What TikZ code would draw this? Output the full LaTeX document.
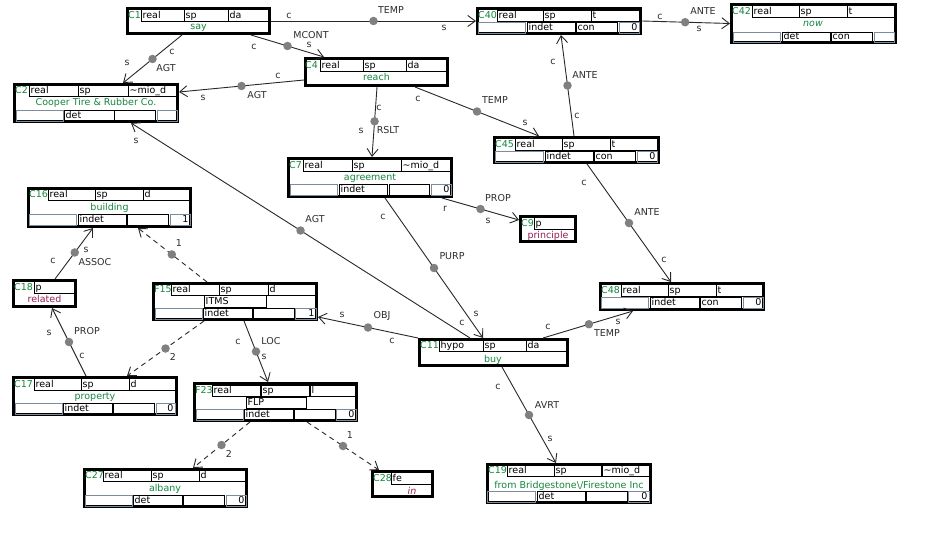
\documentclass[tikz,border=0pt]{standalone}
\usepackage{fontspec}
\setmainfont{DejaVu Sans}
\usetikzlibrary{arrows.meta}
\definecolor{grn}{RGB}{22,135,62}
\definecolor{mag}{RGB}{150,30,85}
\definecolor{gcell}{RGB}{125,140,155}
\definecolor{dotc}{RGB}{128,128,128}
\definecolor{edgec}{RGB}{40,40,40}
\definecolor{labc}{RGB}{45,45,45}
\newcounter{nn}
\tikzset{
 bx/.style={draw=black, line width=2.6pt, fill=white, inner sep=0pt, rectangle},
 cl/.style={draw=black, line width=0.8pt},
 gc/.style={draw=gcell, line width=0.8pt},
 tx/.style={inner sep=0pt, font=\fontsize{9.5}{11}\selectfont, text=black},
 gtx/.style={tx, text=grn},
 mtx/.style={tx, text=mag},
 elab/.style={inner sep=0pt, font=\fontsize{9.5}{11}\selectfont, text=labc},
 dot/.style={circle, fill=dotc, inner sep=0pt, minimum size=8.5pt},
 rel/.style={draw=edgec, line width=0.9pt, -{Straight Barb[length=7.5pt,width=11pt]}},
 drel/.style={rel, dash pattern=on 5pt off 4pt},
}
\newcommand\dBox[5]{\node[bx, minimum width={(#4-#2-2.6)*1pt}, minimum height={(#5-#3-2.6)*1pt}] (#1) at ({(#2+#4)/2},{(#3+#5)/2}) {};}
\newcommand\dCel[5]{\draw[cl] (#1,#2) rectangle (#3,#4); \stepcounter{nn}\node[tx, anchor=base west] (n\arabic{nn}) at ({#1+1.5},{#4-2.3}) {#5};}
\newcommand\dGcel[5]{\draw[gc] (#1,#2) rectangle (#3,#4); \stepcounter{nn}\node[tx, anchor=base east] (n\arabic{nn}) at ({#3-1.5},{#4-2.3}) {#5};}
\newcommand\dLab[3]{\stepcounter{nn}\node[gtx, anchor=base west] (n\arabic{nn}) at (#1,#2) {#3};}
\newcommand\dCtr[3]{\stepcounter{nn}\node[gtx, anchor=base] (n\arabic{nn}) at (#1,#2) {#3};}
\newcommand\dMctr[3]{\stepcounter{nn}\node[mtx, anchor=base] (n\arabic{nn}) at (#1,#2) {#3};}
\newcommand\dEl[3]{\stepcounter{nn}\node[elab] (n\arabic{nn}) at (#1,#2) {#3};}
\begin{document}
\begin{tikzpicture}[x=1pt,y=-1pt]
\fill[white] (0,0) rectangle (947,559);
\useasboundingbox (0,0) rectangle (947,559);
% C1
\dBox{c1}{126}{7}{271}{35}
\dLab{128}{18.7}{C1}
\dCel{141}{9}{184}{21}{real}\dCel{184}{9}{228}{21}{sp}\dCel{228}{9}{269}{21}{da}
\dCtr{198.5}{30}{say}
% C2
\dBox{c2}{13}{83}{179}{123}
\dLab{15}{93.7}{C2}
\dCel{29}{85}{78}{96}{real}\dCel{78}{85}{128}{96}{sp}\dCel{128}{85}{176}{96}{\textasciitilde mio\_d}
\dCtr{96}{106}{Cooper Tire \& Rubber Co.}
\dGcel{16}{110}{63}{121}{}\dCel{64}{110}{114}{121}{det}\dCel{114}{110}{155}{121}{}\dGcel{157}{110}{177}{121}{}
% C40
\dBox{c40}{476}{7}{642}{35}
\dLab{478}{18.7}{C40}
\dCel{497}{10}{543}{21}{real}\dCel{543}{10}{591}{21}{sp}\dCel{591}{10}{639}{21}{t}
\dGcel{478}{22}{525}{33}{}\dCel{527}{22}{575}{33}{indet}\dCel{576}{22}{617}{33}{con}\dGcel{619}{22}{639}{33}{0}
% C42
\dBox{c42}{730}{3}{897}{44}
\dLab{732}{14.7}{C42}
\dCel{752}{5}{799}{17}{real}\dCel{799}{5}{847}{17}{sp}\dCel{847}{5}{894}{17}{t}
\dCtr{813}{27}{\textit{now}}
\dGcel{733}{32}{780}{42}{}\dCel{782}{32}{830}{42}{det}\dCel{831}{32}{872}{42}{con}\dGcel{874}{32}{894}{42}{}
% C4
\dBox{c4}{304}{57}{449}{87}
\dLab{305}{68.7}{C4}
\dCel{320}{59}{363}{71}{real}\dCel{363}{59}{406}{71}{sp}\dCel{406}{59}{447}{71}{da}
\dCtr{376.5}{81}{reach}
% C45
\dBox{c45}{493}{136}{660}{164}
\dLab{495}{147.7}{C45}
\dCel{515}{138}{562}{150}{real}\dCel{562}{138}{610}{150}{sp}\dCel{610}{138}{657}{150}{t}
\dGcel{495}{151}{543}{162}{}\dCel{545}{151}{593}{162}{indet}\dCel{594}{151}{635}{162}{con}\dGcel{637}{151}{657}{162}{0}
% C7
\dBox{c7}{287}{157}{453}{198}
\dLab{289}{168.7}{C7}
\dCel{303}{159}{352}{171}{real}\dCel{352}{159}{401}{171}{sp}\dCel{401}{159}{450}{171}{\textasciitilde mio\_d}
\dCtr{370}{180.5}{agreement}
\dGcel{290}{184}{337}{195}{}\dCel{339}{184}{387}{195}{indet}\dCel{389}{184}{429}{195}{}\dGcel{431}{184}{451}{195}{0}
% C9
\dBox{c9}{519}{215}{577}{243}
\dLab{521}{226.7}{C9}
\dCel{534}{217}{575}{229}{p}
\dMctr{548}{238.5}{principle}
% C16
\dBox{c16}{27}{187}{192}{228}
\dLab{29}{197.7}{C16}
\dCel{48}{189}{95}{200}{real}\dCel{95}{189}{143}{200}{sp}\dCel{143}{189}{190}{200}{d}
\dCtr{109.5}{210.5}{building}
\dGcel{29}{214}{76}{225}{}\dCel{78}{214}{126}{225}{indet}\dCel{127}{214}{168}{225}{}\dGcel{170}{214}{190}{225}{1}
% C18
\dBox{c18}{12}{279}{77}{308}
\dLab{14}{290.7}{C18}
\dCel{34}{281}{75}{293}{p}
\dMctr{44.5}{302.5}{related}
% F15
\dBox{f15}{152}{282}{318}{321}
\dLab{154}{292.7}{F15}
\dCel{171}{284}{219}{295}{real}\dCel{219}{284}{268}{295}{sp}\dCel{268}{284}{315}{295}{d}
\dCel{204}{295}{266}{307}{ITMS}
\dGcel{155}{308}{202}{319}{}\dCel{203}{308}{252}{319}{indet}\dCel{253}{308}{294}{319}{}\dGcel{295}{308}{316}{319}{1}
% C17
\dBox{c17}{12}{376}{178}{416}
\dLab{14}{387.7}{C17}
\dCel{34}{378}{81}{390}{real}\dCel{81}{378}{129}{390}{sp}\dCel{129}{378}{175}{390}{d}
\dCtr{95}{399.5}{property}
\dGcel{15}{403}{62}{414}{}\dCel{63}{403}{112}{414}{indet}\dCel{113}{403}{154}{414}{}\dGcel{156}{403}{175}{414}{0}
% F23
\dBox{f23}{193}{382}{358}{422}
\dLab{195}{393.7}{F23}
\dCel{212}{385}{260}{396}{real}\dCel{261}{385}{309}{396}{sp}\dCel{310}{385}{356}{396}{l}
\dCel{246}{397}{306}{408}{FLP}
\dGcel{196}{409}{243}{420}{}\dCel{244}{409}{293}{420}{indet}\dCel{294}{409}{335}{420}{}\dGcel{336}{409}{356}{420}{0}
% C11
\dBox{c11}{418}{338}{569}{367}
\dLab{420}{348.7}{C11}
\dCel{439}{340}{483}{351}{hypo}\dCel{483}{340}{526}{351}{sp}\dCel{526}{340}{567}{351}{da}
\dCtr{493}{362}{buy}
% C48
\dBox{c48}{599}{282}{765}{311}
\dLab{601}{293.7}{C48}
\dCel{621}{284}{668}{296}{real}\dCel{668}{284}{716}{296}{sp}\dCel{716}{284}{763}{296}{t}
\dGcel{601}{297}{648}{308}{}\dCel{650}{297}{699}{308}{indet}\dCel{700}{297}{741}{308}{con}\dGcel{743}{297}{763}{308}{0}
% C27
\dBox{c27}{83}{468}{248}{508}
\dLab{85}{478.7}{C27}
\dCel{103}{470}{151}{481}{real}\dCel{151}{470}{199}{481}{sp}\dCel{199}{470}{245}{481}{d}
\dCtr{165}{491.5}{albany}
\dGcel{85}{495}{132}{506}{}\dCel{133}{495}{182}{506}{det}\dCel{183}{495}{224}{506}{}\dGcel{226}{495}{246}{506}{0}
% C28
\dBox{c28}{371}{470}{434}{498}
\dLab{373}{481.7}{C28}
\dCel{391}{472}{432}{484}{fe}
\dMctr{412}{494}{\textit{in}}
% C19
\dBox{c19}{486}{463}{652}{504}
\dLab{488}{473.7}{C19}
\dCel{507}{465}{554}{476}{real}\dCel{554}{465}{601}{476}{sp}\dCel{602}{465}{649}{476}{\textasciitilde mio\_d}
\dCtr{569}{488}{from Bridgestone\textbackslash/Firestone Inc}
\dGcel{487}{491}{535}{502}{}\dCel{537}{491}{585}{502}{det}\dCel{586}{491}{627}{502}{}\dGcel{628}{491}{649}{502}{0}
% ---------- edges ----------
\draw[rel] (c1.east) -- node[dot,pos=.5] (d1) {} (c40.west);
\dEl{391}{10}{TEMP}\dEl{289}{15.5}{c}\dEl{444}{28}{s}
\draw[rel] (c40.east) -- node[dot,pos=.49] (d2) {} (c42.west);
\dEl{703}{11}{ANTE}\dEl{660}{16.5}{c}\dEl{699}{29}{s}
\draw[rel] ([xshift=56pt]c1.south west) -- node[dot,pos=.5] (d3) {} ([xshift=110pt]c2.north west);
\dEl{166}{68}{AGT}\dEl{172}{52}{c}\dEl{127}{63}{s}
\draw[rel] ([xshift=125pt]c1.south west) -- node[dot,pos=.5] (d4) {} ([xshift=20pt]c4.north west);
\dEl{311}{35}{MCONT}\dEl{254}{47}{c}\dEl{309}{45}{s}
\draw[rel] ([yshift=7pt]c4.south west) -- node[dot,pos=.5] (d5) {} ([yshift=-9pt]c2.north east);
\dEl{257}{95}{AGT}\dEl{278}{76}{c}\dEl{203}{98}{s}
\draw[rel] ([xshift=73pt]c4.south west) -- node[dot,pos=.49] (d6) {} ([xshift=85pt]c7.north west);
\dEl{388}{130}{RSLT}\dEl{379}{108}{c}\dEl{361}{131}{s}
\draw[rel] ([xshift=111pt]c4.south west) -- node[dot,pos=.5] (d7) {} ([xshift=46pt]c45.north west);
\dEl{495}{100}{TEMP}\dEl{418}{99}{c}\dEl{525}{123}{s}
\draw[rel] ([xshift=81pt]c45.north west) -- node[dot,pos=.5] (d8) {} ([xshift=85pt]c40.south west);
\dEl{585}{75}{ANTE}\dEl{553}{62}{c}\dEl{577}{116}{c}
\draw[rel] ([xshift=94pt]c45.south west) -- node[dot,pos=.5] (d9) {} ([xshift=72pt]c48.north west);
\dEl{647}{212}{ANTE}\dEl{584}{183}{c}\dEl{664}{260}{c}
\draw[rel] ([xshift=155pt]c7.south west) -- node[dot,pos=.5] (d10) {} ([yshift=-5pt]c9.north west);
\dEl{498}{198}{PROP}\dEl{445}{209}{r}\dEl{488}{221}{s}
\draw[rel] ([xshift=98pt]c7.south west) -- node[dot,pos=.5] (d11) {} ([xshift=65pt]c11.north west);
\dEl{452}{256}{PURP}\dEl{383}{217}{c}\dEl{476}{314}{s}
\draw[rel] ([xshift=52pt]c11.north west) -- node[dot,pos=.5] (d12) {} ([xshift=118pt]c2.south west);
\dEl{315}{219}{AGT}\dEl{136}{141}{s}\dEl{462}{323}{c}
\draw[rel] (c11.north west) -- node[dot,pos=.5] (d13) {} ([yshift=4pt]f15.south east);
\dEl{382}{316}{OBJ}\dEl{392}{341}{c}\dEl{342}{315}{s}
\draw[rel] ([xshift=125pt]c11.north west) -- node[dot,pos=.51] (d14) {} ([xshift=34pt]c48.south west);
\dEl{607}{333}{TEMP}\dEl{548}{327}{c}\dEl{618}{322}{s}
\draw[rel] ([xshift=84pt]c11.south west) -- node[dot,pos=.5] (d15) {} ([xshift=70pt]c19.north west);
\dEl{547}{405}{AVRT}\dEl{498}{387}{c}\dEl{550}{439}{s}
\draw[drel] ([xshift=55pt]f15.north west) -- node[dot,pos=.51] (d16) {} ([xshift=111pt]c16.south west);
\dEl{179}{243}{1}
\draw[drel] ([xshift=52pt]f15.south west) -- node[dot,pos=.5] (d17) {} ([xshift=115pt]c17.north west);
\dEl{173}{357}{2}
\draw[rel] ([xshift=43pt]c18.north west) -- node[dot,pos=.52] (d18) {} ([xshift=66pt]c16.south west);
\dEl{95}{262}{ASSOC}\dEl{86}{250}{s}\dEl{53}{261}{c}
\draw[rel] ([xshift=74pt]c17.north west) -- node[dot,pos=.5] (d19) {} ([xshift=40pt]c18.south west);
\dEl{87}{331}{PROP}\dEl{82}{356}{c}\dEl{49}{333}{s}
\draw[rel] ([xshift=92pt]f15.south west) -- node[dot,pos=.5] (d20) {} ([xshift=75pt]f23.north west);
\dEl{271}{341}{LOC}\dEl{238}{342}{c}\dEl{264}{357}{s}
\draw[drel] ([xshift=57pt]f23.south west) -- node[dot,pos=.5] (d21) {} ([xshift=110pt]c27.north west);
\dEl{229}{454}{2}
\draw[drel] ([xshift=114pt]f23.south west) -- node[dot,pos=.5] (d22) {} ([xshift=8pt]c28.north west);
\dEl{350}{435}{1}
\end{tikzpicture}
\end{document}
